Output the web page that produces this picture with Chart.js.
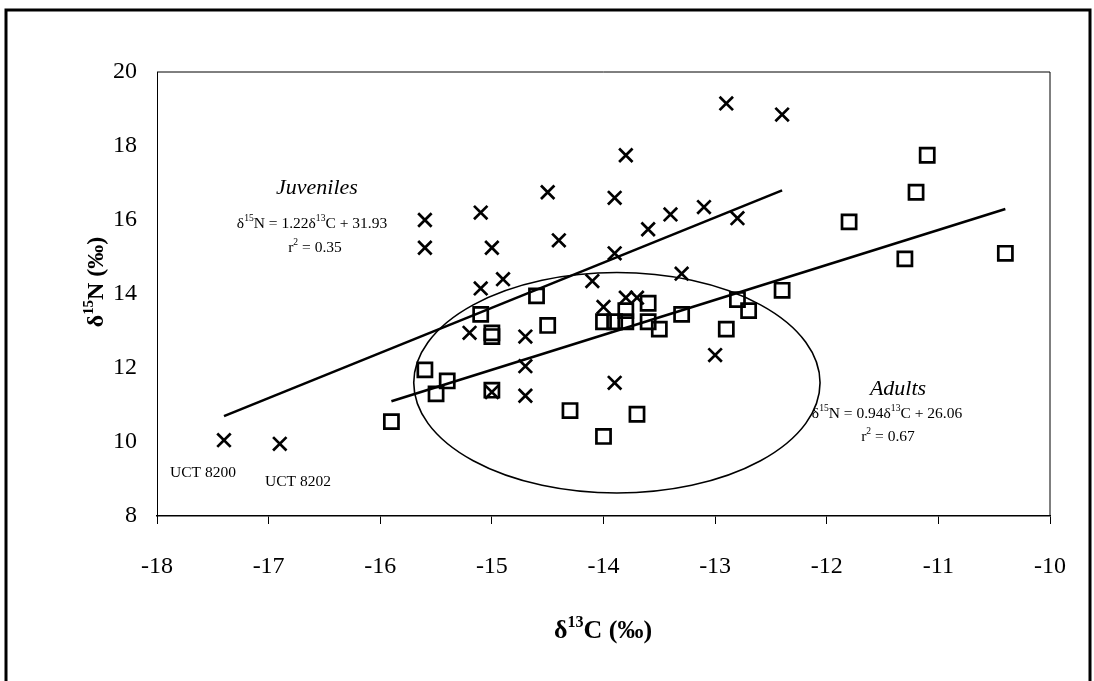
<!DOCTYPE html>
<html>
<head>
<meta charset="utf-8">
<script src="https://cdn.jsdelivr.net/npm/chart.js@4/dist/chart.umd.min.js"></script>
<style>
  html, body { margin: 0; padding: 0; background: #fff; }
  canvas { display: block; }
</style>
</head>
<body>
<canvas id="c" width="1094" height="681"></canvas>
<script>
// juveniles (crosses)
const juvC = [-17.4, -16.9, -15.6, -15.6, -15.1, -15.1, -15.0, -14.9, -15.2, -15.0,
  -14.7, -14.7, -14.7, -14.5, -14.4, -14.1, -14.0, -13.9, -13.9, -13.9,
  -13.8, -13.8, -13.7, -13.6, -13.4, -13.3, -13.1, -13.0, -12.9, -12.8, -12.4];
const juvN = [10.05, 9.95, 16.0, 15.25, 16.2, 14.15, 15.25, 14.4, 12.95, 11.35,
  12.85, 12.05, 11.25, 16.75, 15.45, 14.35, 13.65, 16.6, 15.1, 11.6,
  17.75, 13.9, 13.9, 15.75, 16.15, 14.55, 16.35, 12.35, 19.15, 16.05, 18.85];

// adults (squares)
const adultC = [-15.9, -15.6, -15.5, -15.4, -15.1, -15.0, -15.0, -15.0, -14.6, -14.5,
  -14.3, -14.0, -14.0, -13.9, -13.8, -13.8, -13.7, -13.6, -13.6, -13.5,
  -13.3, -12.9, -12.8, -12.7, -12.4, -11.8, -11.3, -11.2, -11.1, -10.4];
const adultN = [10.55, 11.95, 11.3, 11.65, 13.45, 12.95, 12.85, 11.4, 13.95, 13.15,
  10.85, 10.15, 13.25, 13.25, 13.25, 13.55, 10.75, 13.75, 13.25, 13.05,
  13.45, 13.05, 13.85, 13.55, 14.1, 15.95, 14.95, 16.75, 17.75, 15.1];

// regression lines (end points)
const juvFitC = [-17.4, -12.4];
const juvFitN = [10.7, 16.8];
const adultFitC = [-15.9, -10.4];
const adultFitN = [11.1, 16.3];

// ellipse round the adults
const ellC = -13.88, ellN = 11.6, ellRC = 1.82, ellRN = 2.98;

const xTicks = [-18, -17, -16, -15, -14, -13, -12, -11, -10];
const yTicks = [8, 10, 12, 14, 16, 18, 20];

const pts = (xs, ys) => xs.map((x, i) => ({ x: x, y: ys[i] }));
const serif = '"Liberation Serif", "Times New Roman", serif';

// text with superscripts, centred on x
function rich(ctx, parts, x, y, size, style) {
  let w = 0;
  parts.forEach(p => {
    ctx.font = style + ' ' + (p.sup ? size * 0.62 : size) + 'px ' + serif;
    p.w = ctx.measureText(p.t).width;
    w += p.w;
  });
  let cx = x - w / 2;
  ctx.textAlign = 'left';
  ctx.textBaseline = 'alphabetic';
  parts.forEach(p => {
    ctx.font = style + ' ' + (p.sup ? size * 0.62 : size) + 'px ' + serif;
    ctx.fillText(p.t, cx, p.sup ? y - size * 0.42 : y);
    cx += p.w;
  });
}

const extras = {
  id: 'extras',
  afterDraw(chart) {
    const ctx = chart.ctx, a = chart.chartArea;
    const sx = chart.scales.x, sy = chart.scales.y;
    ctx.save();
    ctx.strokeStyle = '#000';
    ctx.fillStyle = '#000';

    // plot box top and right
    ctx.lineWidth = 1;
    ctx.beginPath();
    ctx.moveTo(a.left, a.top);
    ctx.lineTo(a.right, a.top);
    ctx.lineTo(a.right, a.bottom);
    ctx.stroke();

    // ellipse
    const ex = sx.getPixelForValue(ellC), ey = sy.getPixelForValue(ellN);
    const erx = sx.getPixelForValue(ellC + ellRC) - ex;
    const ery = ey - sy.getPixelForValue(ellN + ellRN);
    ctx.lineWidth = 1.6;
    ctx.beginPath();
    ctx.ellipse(ex, ey, erx, ery, 0, 0, Math.PI * 2);
    ctx.stroke();

    // labels
    ctx.font = 'italic 22px ' + serif;
    ctx.textAlign = 'center';
    ctx.fillText('Juveniles', 317, 194);
    rich(ctx, [{t: 'δ'}, {t: '15', sup: 1}, {t: 'N = 1.22δ'}, {t: '13', sup: 1}, {t: 'C + 31.93'}], 312, 228, 15.5, '');
    rich(ctx, [{t: 'r'}, {t: '2', sup: 1}, {t: ' = 0.35'}], 315, 252, 15.5, '');

    ctx.font = 'italic 22px ' + serif;
    ctx.textAlign = 'center';
    ctx.fillText('Adults', 898, 395);
    rich(ctx, [{t: 'δ'}, {t: '15', sup: 1}, {t: 'N = 0.94δ'}, {t: '13', sup: 1}, {t: 'C + 26.06'}], 887, 418, 15.5, '');
    rich(ctx, [{t: 'r'}, {t: '2', sup: 1}, {t: ' = 0.67'}], 888, 441, 15.5, '');

    ctx.font = '15.5px ' + serif;
    ctx.textAlign = 'center';
    ctx.fillText('UCT 8200', 203, 477);
    ctx.fillText('UCT 8202', 298, 486);

    // axis titles
    rich(ctx, [{t: 'δ'}, {t: '13', sup: 1}, {t: 'C (‰)'}], 603, 638, 26, 'bold');
    ctx.translate(103, 282);
    ctx.rotate(-Math.PI / 2);
    rich(ctx, [{t: 'δ'}, {t: '15', sup: 1}, {t: 'N (‰)'}], 0, 0, 24, 'bold');
    ctx.restore();

    // outer frame
    ctx.save();
    ctx.strokeStyle = '#000';
    ctx.lineWidth = 3;
    ctx.beginPath();
    ctx.moveTo(6, 681);
    ctx.lineTo(6, 10);
    ctx.lineTo(1090, 10);
    ctx.lineTo(1090, 681);
    ctx.stroke();
    ctx.restore();
  }
};

new Chart(document.getElementById('c'), {
  type: 'scatter',
  data: {
    datasets: [{
      label: 'Juveniles',
      data: pts(juvC, juvN),
      pointStyle: 'crossRot',
      pointRadius: 9.5,
      borderColor: '#000',
      borderWidth: 2.7
    }, {
      label: 'Adults',
      data: pts(adultC, adultN),
      pointStyle: 'rect',
      pointRadius: 10,
      borderColor: '#000',
      backgroundColor: 'rgba(0,0,0,0)',
      borderWidth: 2.7
    }, {
      label: 'Juvenile fit',
      data: pts(juvFitC, juvFitN),
      showLine: true,
      pointRadius: 0,
      borderColor: '#000',
      borderWidth: 2.6
    }, {
      label: 'Adult fit',
      data: pts(adultFitC, adultFitN),
      showLine: true,
      pointRadius: 0,
      borderColor: '#000',
      borderWidth: 2.6
    }]
  },
  options: {
    responsive: false,
    animation: false,
    layout: { padding: { top: 72, right: 44, left: 0, bottom: 0 } },
    plugins: { legend: { display: false }, tooltip: { enabled: false } },
    scales: {
      x: {
        type: 'linear',
        min: -18,
        max: -10,
        afterBuildTicks: s => { s.ticks = xTicks.map(v => ({ value: v })); },
        afterFit: s => { s.height = 165; },
        ticks: { color: '#000', font: { family: serif, size: 24 }, padding: 28, callback: v => String(v) },
        grid: { drawOnChartArea: false, drawTicks: true, tickLength: 8, color: '#000' },
        border: { color: '#000', width: 1.5 }
      },
      y: {
        type: 'linear',
        min: 8,
        max: 20,
        afterBuildTicks: s => { s.ticks = yTicks.map(v => ({ value: v })); },
        afterFit: s => { s.width = 157; },
        ticks: { color: '#000', font: { family: serif, size: 24 }, padding: 20, callback: v => String(v) },
        grid: { drawOnChartArea: false, drawTicks: false, color: '#000' },
        border: { color: '#000', width: 1 }
      }
    }
  },
  plugins: [extras]
});
</script>
</body>
</html>
